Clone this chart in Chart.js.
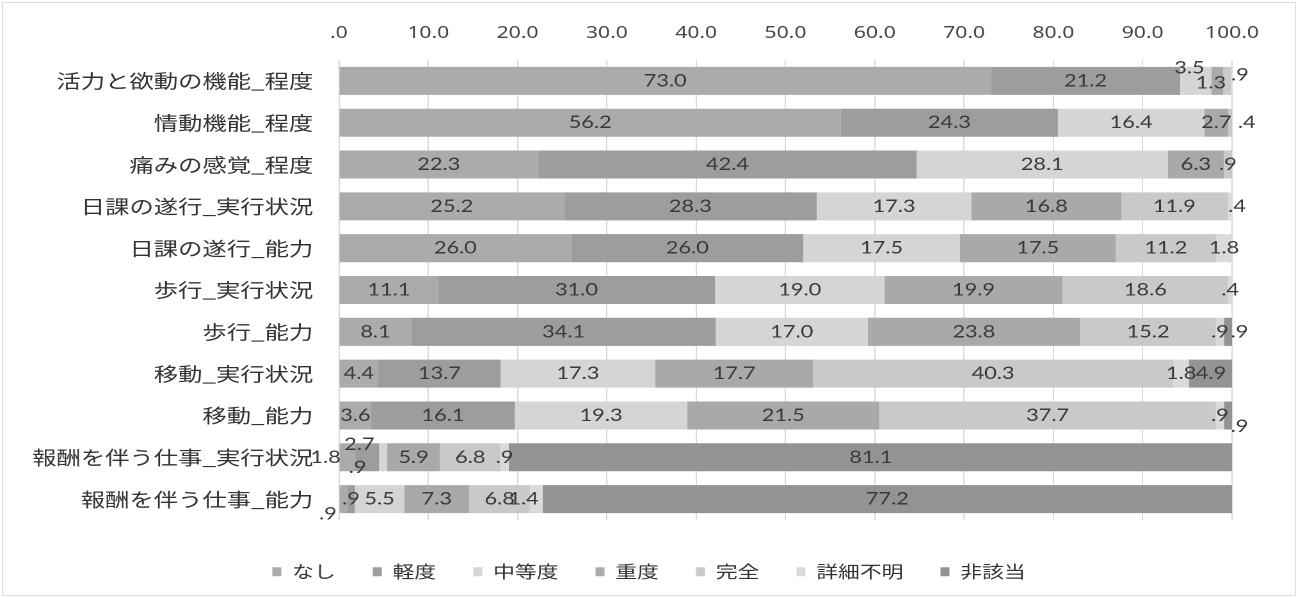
<!DOCTYPE html>
<html lang="ja">
<head>
<meta charset="utf-8">
<title>評価点の分布</title>
<script src="https://cdn.jsdelivr.net/npm/chart.js@4.4.1/dist/chart.umd.min.js"></script>
<style>
  html, body { margin: 0; padding: 0; background: #fff; }
  #frame { position: absolute; left: 2px; top: 2px; width: 1292px; height: 592px; border: 1px solid #dcdcdc; }
  /* the whole drawing is stretched sideways */
  #wrap { position: absolute; left: 0; top: 0; width: 1014px; height: 598px; transform: scaleX(1.28); transform-origin: 0 0; }
</style>
</head>
<body>
<div id="frame"></div>
<div id="wrap"><canvas id="myChart" width="1014" height="598" style="width:1014px;height:598px"></canvas></div>
<script>
const categories = [
  '活力と欲動の機能_程度',
  '情動機能_程度',
  '痛みの感覚_程度',
  '日課の遂行_実行状況',
  '日課の遂行_能力',
  '歩行_実行状況',
  '歩行_能力',
  '移動_実行状況',
  '移動_能力',
  '報酬を伴う仕事_実行状況',
  '報酬を伴う仕事_能力'
];

const seriesNames = ['なし', '軽度', '中等度', '重度', '完全', '詳細不明', '非該当'];

// percentages per row (null = no segment)
const nashi    = [73.0, 56.2, 22.3, 25.2, 26.0, 11.1, 8.1, 4.4, 3.6, 1.8, 0.9];
const keido    = [21.2, 24.3, 42.4, 28.3, 26.0, 31.0, 34.1, 13.7, 16.1, 2.7, 0.9];
const chutoudo = [3.5, 16.4, 28.1, 17.3, 17.5, 19.0, 17.0, 17.3, 19.3, 0.9, 5.5];
const juudo    = [1.3, 2.7, 6.3, 16.8, 17.5, 19.9, 23.8, 17.7, 21.5, 5.9, 7.3];
const kanzen   = [0.9, 0.4, 0.9, 11.9, 11.2, 18.6, 15.2, 40.3, 37.7, 6.8, 6.8];
const fumei    = [null, null, null, 0.4, 1.8, 0.4, 0.9, 1.8, 0.9, 0.9, 1.4];
const higaitou = [null, null, null, null, null, null, 0.9, 4.9, 0.9, 81.1, 77.2];

const xTicks = [0, 10, 20, 30, 40, 50, 60, 70, 80, 90, 100];

const seriesValues = [nashi, keido, chutoudo, juudo, kanzen, fumei, higaitou];
const seriesColors = ['#ababab', '#9d9d9d', '#d5d5d5', '#a9a9a9', '#c9c9c9', '#dadada', '#939393'];

// "#.0" style number: 0.9 -> ".9", 0 -> ".0"
function fmt(v) {
  return v.toFixed(1).replace(/^0\./, '.');
}

// thin segments have their labels moved off the bar: [dx, dy] by "row:series"
const labelNudge = {
  '0:2': [-5, -13],
  '0:3': [-5, 2],
  '0:4': [10, -6],
  '1:4': [13, 0],
  '3:5': [6, 0],
  '6:6': [9, 0],
  '8:6': [9, 11],
  '9:0': [-17, 0],
  '9:1': [-6, -13],
  '9:2': [-20, 10],
  '10:0': [-12, 15],
  '10:5': [-10, 0]
};

const segmentLabels = {
  id: 'segmentLabels',
  afterDatasetsDraw(chart) {
    const ctx = chart.ctx;
    ctx.save();
    ctx.font = '17px Lato';
    ctx.fillStyle = '#3a3a3a';
    ctx.textAlign = 'center';
    ctx.textBaseline = 'middle';
    chart.data.datasets.forEach(function (ds, i) {
      chart.getDatasetMeta(i).data.forEach(function (bar, j) {
        const v = ds.data[j];
        if (v == null) return;
        const p = bar.getProps(['x', 'y', 'base'], true);
        const n = labelNudge[j + ':' + i] || [0, 0];
        ctx.fillText(fmt(v), (p.x + p.base) / 2 + n[0], p.y + n[1]);
      });
    });
    ctx.restore();
  }
};

// fixed height for the legend strip under the plot, centred on the whole canvas
const legendStrip = {
  id: 'legendStrip',
  beforeLayout(chart) {
    const legend = chart.legend;
    if (!legend || legend._fixed) return;
    const fit = legend.fit;
    legend.fit = function () {
      fit.call(this);
      this.height = 78;
    };
    legend._fixed = true;
  },
  afterLayout(chart) {
    const legend = chart.legend;
    const shift = (chart.width - legend.right - legend.left) / 2;
    legend.left += shift;
    legend.right += shift;
  }
};

const datasets = seriesNames.map(function (name, i) {
  return {
    label: name,
    data: seriesValues[i],
    backgroundColor: seriesColors[i],
    borderWidth: 0,
    barPercentage: 0.67,
    categoryPercentage: 1.0
  };
});

const ctx = document.getElementById('myChart').getContext('2d');
const chart = new Chart(ctx, {
  type: 'bar',
  data: { labels: categories, datasets: datasets },
  options: {
    indexAxis: 'y',
    responsive: false,
    devicePixelRatio: 2,
    animation: false,
    events: [],
    layout: { padding: { left: 0, right: 51.5, top: 0, bottom: 0 } },
    scales: {
      x: {
        position: 'top',
        stacked: true,
        min: 0,
        max: 100,
        afterFit(scale) { scale.height = 60; },
        afterBuildTicks(scale) { scale.ticks = xTicks.map(function (v) { return { value: v }; }); },
        ticks: {
          padding: 17,
          color: '#444',
          font: { family: 'Noto Sans', size: 16.5 },
          callback: function (v) { return fmt(v); }
        },
        grid: { color: '#d9d9d9', drawTicks: false },
        border: { display: false }
      },
      y: {
        stacked: true,
        afterFit(scale) { scale.width = 264.8; },
        ticks: {
          padding: 20,
          color: '#333',
          font: { family: 'Noto Sans CJK JP', size: 19 }
        },
        grid: { display: false, drawTicks: false },
        border: { display: false }
      }
    },
    plugins: {
      tooltip: { enabled: false },
      legend: {
        position: 'bottom',
        title: { display: true, text: '', padding: { top: 13, bottom: 0 }, font: { size: 1 } },
        labels: {
          boxWidth: 7,
          boxHeight: 9,
          padding: 29,
          color: '#333',
          font: { family: 'Noto Sans CJK JP', size: 17 }
        }
      }
    }
  },
  plugins: [segmentLabels, legendStrip]
});
</script>
</body>
</html>
